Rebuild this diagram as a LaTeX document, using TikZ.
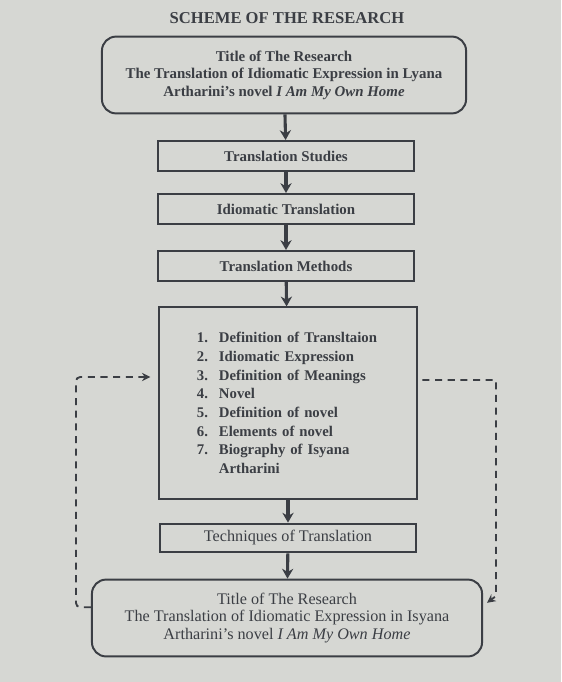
\documentclass[tikz,border=0pt]{standalone}
\usepackage{fontspec}
\setmainfont{Liberation Serif}
\usetikzlibrary{arrows.meta,positioning}
\definecolor{ink}{HTML}{3B3E44}
\definecolor{screen}{HTML}{D6D7D3}

\begin{document}
\begin{tikzpicture}[x=0.025cm,y=-0.025cm,
every node/.style={text=ink,font=\fontsize{10.6}{12.5}\selectfont\bfseries},
stepbox/.style={draw=ink,line width=1.4pt,minimum width=6.42cm,minimum height=0.75cm,inner sep=0pt},
titlebox/.style={draw=ink,line width=1.4pt,rounded corners=10pt,minimum height=1.92cm,align=center},
flow/.style={draw=ink,line width=2.2pt,-{Stealth[length=7pt,width=8pt]}},
back/.style={draw=ink,line width=1.3pt,dash pattern=on 5pt off 4pt}]
\fill[screen] (0,0) rectangle (561,682);
\node[font=\fontsize{11.8}{13}\selectfont\bfseries] (head) at (287,18) {SCHEME OF THE RESEARCH};
\node[titlebox,minimum width=9.1cm] (top) at (284,75) {Title of The Research\\The Translation of Idiomatic Expression in Lyana\\Artharini's novel \textit{I Am My Own Home}};
\node[stepbox] (studies) at (286,156) {Translation Studies};
\node[stepbox] (idiom) at (286,209) {Idiomatic Translation};
\node[stepbox] (methods) at (286,266) {Translation Methods};
\node[stepbox,minimum height=4.78cm,text width=4.55cm,inner xsep=0.94cm,align=left,font=\fontsize{10.5}{13.3}\selectfont\bfseries] (theory) at (288,403) {%
\makebox[0.55cm][l]{1.}Definition of Transltaion\\
\makebox[0.55cm][l]{2.}Idiomatic Expression\\
\makebox[0.55cm][l]{3.}Definition of Meanings\\
\makebox[0.55cm][l]{4.}Novel\\
\makebox[0.55cm][l]{5.}Definition of novel\\
\makebox[0.55cm][l]{6.}Elements of novel\\
\makebox[0.55cm][l]{7.}Biography of Isyana\\
\hspace*{0.55cm}Artharini};
\node[stepbox,minimum height=0.72cm,font=\fontsize{11.5}{12.2}\selectfont] (tech) at (288,538) {Techniques of Translation};
\node[titlebox,minimum width=9.75cm,font=\fontsize{11.5}{12.2}\selectfont] (bottom) at (287,618) {Title of The Research\\The Translation of Idiomatic Expression in Isyana\\Artharini's novel \textit{I Am My Own Home}};
\draw[flow] (top) -- (studies);
\draw[flow] (studies) -- (idiom);
\draw[flow] (idiom) -- (methods);
\draw[flow] (methods) -- (theory);
\draw[flow] (theory) -- (tech);
\draw[flow] (tech) -- (bottom);
\draw[back,-{Stealth[length=6pt,width=6pt]},rounded corners=3pt] ([yshift=0.27cm]bottom.west) -| ([xshift=-0.375cm,yshift=0.65cm]bottom.west |- theory.west) -- ([xshift=-0.2cm,yshift=0.65cm]theory.west);
\draw[back,-{Stealth[length=6pt,width=6pt]}] ([xshift=0.12cm,yshift=0.575cm]theory.east) -| ([xshift=0.325cm,yshift=0.55cm]bottom.east) -- ([xshift=0.1cm,yshift=0.38cm]bottom.east);
\end{tikzpicture}
\end{document}
